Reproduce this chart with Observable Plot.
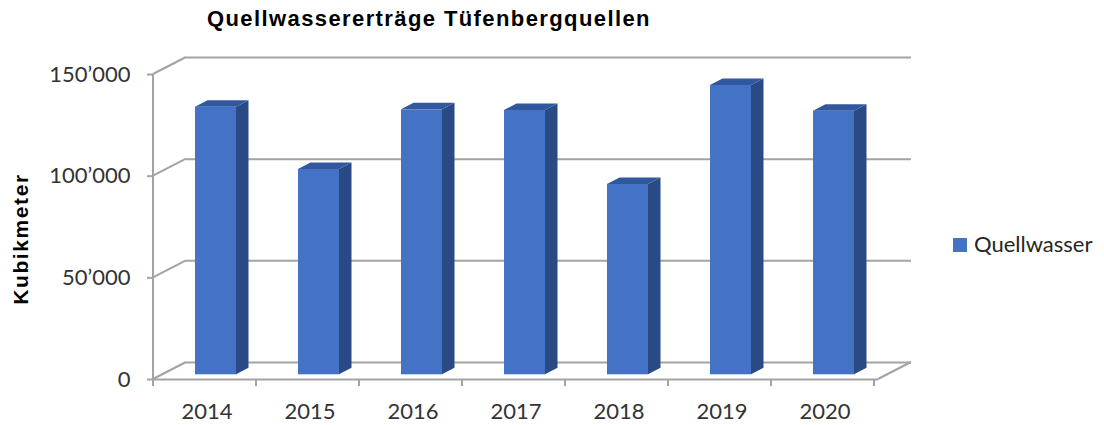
<!DOCTYPE html>
<html>
<head>
<meta charset="utf-8">
<script src="https://cdn.jsdelivr.net/npm/d3@7"></script>
<script src="https://cdn.jsdelivr.net/npm/@observablehq/plot@0.6"></script>
<style>
  html, body { margin: 0; padding: 0; background: #fff; }
  #wrap { position: relative; width: 1104px; height: 425px; overflow: hidden; background: #fff; }
  #title { position: absolute; left: 207px; top: 8px; font-family: "Liberation Sans", Arial, sans-serif; font-weight: bold; font-size: 22px; line-height: 22px; letter-spacing: 1.4px; color: #000; white-space: nowrap; }
  #chart { position: absolute; left: 0; top: 40px; }
  #ylabel { position: absolute; left: 19.5px; top: 239px; width: 0; height: 0; }
  #ylabel span { position: absolute; left: 0; top: 0; transform: translate(-50%, -50%) rotate(-90deg); font-family: "Liberation Sans", Arial, sans-serif; font-weight: bold; font-size: 21px; line-height: 21px; letter-spacing: 1.6px; color: #000; white-space: nowrap; }
  #legend-swatch { position: absolute; left: 953px; top: 238px; width: 14px; height: 14px; background: #4472C4; }
  #legend-text { position: absolute; left: 974px; top: 233px; font-family: Lato, sans-serif; font-size: 22px; line-height: 22px; color: #262626; white-space: nowrap; }
</style>
</head>
<body>
<div id="wrap">
  <div id="title">Quellwassererträge Tüfenbergquellen</div>
  <div id="chart"></div>
  <div id="ylabel"><span id="ylabel-text"></span></div>
  <div id="legend-swatch"></div>
  <div id="legend-text"></div>
</div>
<script>
// ---- data ----
const years = ["2014", "2015", "2016", "2017", "2018", "2019", "2020"];
const volumes = [131600, 101000, 130300, 130000, 93600, 142300, 129600];
const yTicks = [0, 50000, 100000, 150000];
const seriesName = "Quellwasser";
const yLabel = "Kubikmeter";

const data = years.map((year, i) => ({year, volume: volumes[i], series: seriesName}));
document.getElementById("ylabel-text").textContent = yLabel;
document.getElementById("legend-text").textContent = seriesName;

// ---- style ----
const FRONT = "#4472C4", SIDE = "#2a4a85", TOP = "#31589f", GRID = "#a3a3a3";
const WALL = {dx: 33, dy: -17};      // back-wall offset
const BAR = {dx: 9, dy: -4.7};       // bar front plane offset
const BD = {dx: 12.5, dy: -6.5};     // bar depth

const fmt = d3.formatLocale({decimal: ".", thousands: "\u2019", grouping: [3], currency: ["", ""]}).format(",");

// left wall diagonals, y axis line, floor right edge, category ticks
function walls(index, scales) {
  const x = scales.x, y = scales.y;
  const [r0, r1] = x.range();
  const g = d3.create("svg:g").attr("stroke", GRID).attr("stroke-width", 2).attr("fill", "none");
  for (const t of yTicks) {
    g.append("line").attr("x1", r0).attr("y1", y(t)).attr("x2", r0 + WALL.dx).attr("y2", y(t) + WALL.dy);
  }
  g.append("line").attr("x1", r0).attr("y1", y(yTicks[yTicks.length - 1])).attr("x2", r0).attr("y2", y(0) + 1);
  g.append("line").attr("x1", r1).attr("y1", y(0)).attr("x2", r1 + WALL.dx).attr("y2", y(0) + WALL.dy);
  const step = x.step();
  for (let i = 0; i <= years.length; i++) {
    const bx = r0 + i * step;
    g.append("line").attr("x1", bx).attr("y1", y(0)).attr("x2", bx).attr("y2", y(0) + 7);
  }
  return g.node();
}

// side and top faces of each bar
function prisms(index, scales) {
  const x = scales.x, y = scales.y;
  const bw = x.bandwidth();
  const g = d3.create("svg:g");
  for (const d of data) {
    const x0 = x(d.year) + BAR.dx, x1 = x0 + bw;
    const y0 = y(0) + BAR.dy, yv = y(d.volume) + BAR.dy;
    g.append("path")
      .attr("d", `M${x1},${y0}L${x1 + BD.dx},${y0 + BD.dy}L${x1 + BD.dx},${yv + BD.dy}L${x1},${yv}Z`)
      .attr("fill", SIDE);
    g.append("path")
      .attr("d", `M${x0},${yv}L${x0 + BD.dx},${yv + BD.dy}L${x1 + BD.dx},${yv + BD.dy}L${x1},${yv}Z`)
      .attr("fill", TOP);
  }
  return g.node();
}

const chart = Plot.plot({
  width: 930,
  height: 385,
  marginLeft: 153,
  marginRight: 52,
  marginTop: 34,
  marginBottom: 46,
  style: {fontFamily: "Lato, sans-serif", background: "white", overflow: "visible"},
  x: {domain: years, paddingInner: 0.6, paddingOuter: 0.3, label: null},
  y: {domain: [0, 150000], label: null},
  marks: [
    Plot.ruleY(yTicks, {dx: WALL.dx, dy: WALL.dy, stroke: GRID, strokeWidth: 2}),
    walls,
    Plot.ruleY([0], {stroke: GRID, strokeWidth: 2}),
    Plot.barY(data, {x: "year", y: "volume", fill: FRONT, dx: BAR.dx, dy: BAR.dy}),
    prisms,
    Plot.axisY({ticks: yTicks, tickFormat: fmt, tickSize: 6, tickPadding: 17, fontSize: 22, stroke: GRID, strokeWidth: 2, fill: "#333", label: null}),
    Plot.axisX({tickSize: 0, tickPadding: 24, fontSize: 22, fill: "#333", label: null})
  ]
});
document.getElementById("chart").appendChild(chart);
</script>
</body>
</html>
